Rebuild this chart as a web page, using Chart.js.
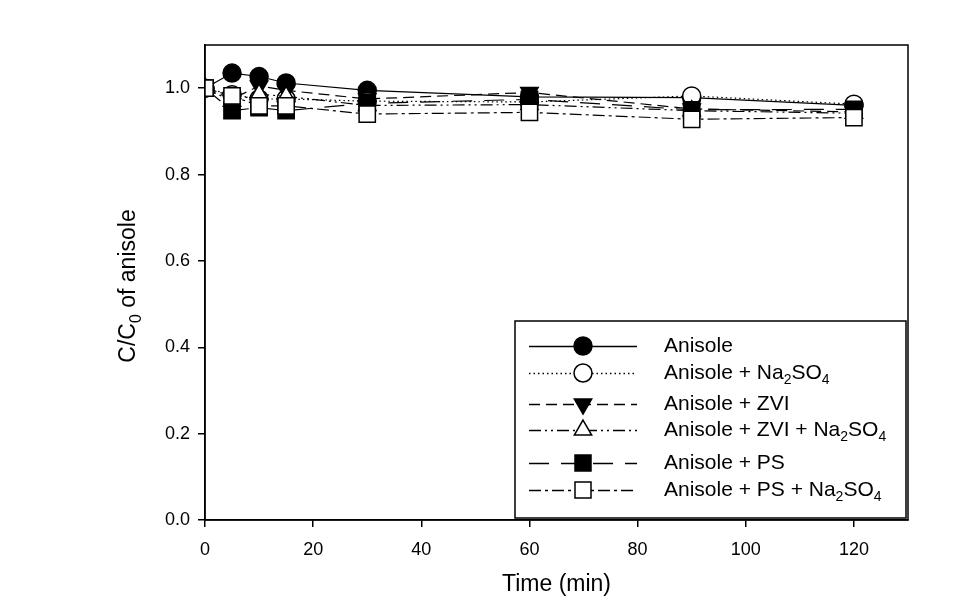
<!DOCTYPE html>
<html>
<head>
<meta charset="utf-8">
<script src="https://cdn.jsdelivr.net/npm/chart.js@4/dist/chart.umd.min.js"></script>
<style>
  html, body { margin: 0; padding: 0; background: #fff; }
  #wrap { width: 968px; height: 614px; }
</style>
</head>
<body>
<div id="wrap"><canvas id="chart" width="968" height="614"></canvas></div>
<script>
// sampling times (min)
const times = [0, 5, 10, 15, 30, 60, 90, 120];

// C/C0 values
const anisole      = [1.0, 1.035, 1.027, 1.012, 0.995, 0.980, 0.978, 0.960];
const anisoleNa    = [1.0, 0.985, 0.975, 0.975, 0.970, 0.968, 0.982, 0.963];
const anisoleZvi   = [1.0, 0.975, 1.005, 0.995, 0.975, 0.990, 0.952, 0.945];
const anisoleZviNa = [1.0, 0.970, 0.986, 0.981, 0.960, 0.962, 0.948, 0.942];
const anisolePs    = [1.0, 0.948, 0.955, 0.948, 0.965, 0.974, 0.950, 0.951];
const anisolePsNa  = [1.0, 0.982, 0.959, 0.959, 0.940, 0.944, 0.928, 0.932];

const xTicks = [0, 20, 40, 60, 80, 100, 120];
const yTicks = [0.0, 0.2, 0.4, 0.6, 0.8, 1.0];

// legend labels: [text, subscript?]
const seriesNames = [
    [['Anisole', false]],
    [['Anisole + Na', false], ['2', true], ['SO', false], ['4', true]],
    [['Anisole + ZVI', false]],
    [['Anisole + ZVI + Na', false], ['2', true], ['SO', false], ['4', true]],
    [['Anisole + PS', false]],
    [['Anisole + PS + Na', false], ['2', true], ['SO', false], ['4', true]]
];

const FONT = '"Liberation Sans", Arial, sans-serif';

const styles = [
    { shape: 'circle',   fill: '#000', dash: [] },
    { shape: 'circle',   fill: '#fff', dash: [1.5, 3] },
    { shape: 'triangle', fill: '#000', dash: [11, 6], rot: 180 },
    { shape: 'triangle', fill: '#fff', dash: [12, 4, 2, 4, 2, 4] },
    { shape: 'rect',     fill: '#000', dash: [20, 12] },
    { shape: 'rect',     fill: '#fff', dash: [12, 4, 3, 4] }
];
const seriesData = [anisole, anisoleNa, anisoleZvi, anisoleZviNa, anisolePs, anisolePsNa];

const radiusFor = s => s === 'circle' ? 9 : (s === 'rect' ? 11.5 : 10);

const datasets = seriesData.map((vals, i) => ({
    label: 's' + i,
    data: vals.map((v, k) => ({ x: times[k], y: v })),
    borderColor: '#000',
    borderWidth: 1.2,
    borderDash: styles[i].dash,
    backgroundColor: styles[i].fill,
    pointStyle: styles[i].shape,
    pointRotation: styles[i].rot || 0,
    pointRadius: radiusFor(styles[i].shape),
    pointBorderWidth: 1.5,
    pointBorderColor: '#000',
    pointBackgroundColor: styles[i].fill,
    tension: 0,
    order: seriesData.length - i
}));

// marker for the legend, same look as in the plot
function marker(ctx, st, x, y) {
    ctx.save();
    ctx.setLineDash([]);
    ctx.lineWidth = 1.5;
    ctx.strokeStyle = '#000';
    ctx.fillStyle = st.fill;
    ctx.beginPath();
    if (st.shape === 'circle') {
        ctx.arc(x, y, 9, 0, Math.PI * 2);
    } else if (st.shape === 'rect') {
        ctx.rect(x - 8, y - 8, 16, 16);
    } else {
        const r = 10, d = st.rot ? -1 : 1;
        ctx.moveTo(x, y - d * r);
        ctx.lineTo(x + r * 0.866, y + d * r * 0.5);
        ctx.lineTo(x - r * 0.866, y + d * r * 0.5);
        ctx.closePath();
    }
    ctx.fill();
    ctx.stroke();
    ctx.restore();
}

function richText(ctx, parts, x, y, size) {
    let cx = x;
    parts.forEach(([t, sub]) => {
        ctx.font = (sub ? Math.round(size * 0.68) : size) + 'px ' + FONT;
        ctx.fillText(t, cx, sub ? y + size * 0.32 : y);
        cx += ctx.measureText(t).width;
    });
    return cx;
}

const decorations = {
    id: 'decorations',
    afterDraw(chart) {
        const ctx = chart.ctx;
        const a = chart.chartArea;
        ctx.save();
        // frame
        ctx.strokeStyle = '#000';
        ctx.lineWidth = 1.5;
        ctx.strokeRect(a.left, a.top, a.right - a.left, a.bottom - a.top);

        // x title
        ctx.fillStyle = '#000';
        ctx.textBaseline = 'middle';
        ctx.textAlign = 'center';
        ctx.font = '23px ' + FONT;
        ctx.fillText('Time (min)', (a.left + a.right) / 2, 585);

        // y title with subscript
        ctx.save();
        ctx.translate(129, 286);
        ctx.rotate(-Math.PI / 2);
        ctx.textAlign = 'left';
        const yParts = [['C/C', false], ['0', true], [' of anisole', false]];
        let w = 0;
        yParts.forEach(([t, sub]) => {
            ctx.font = (sub ? Math.round(23 * 0.68) : 23) + 'px ' + FONT;
            w += ctx.measureText(t).width;
        });
        richText(ctx, yParts, -w / 2, 0, 23);
        ctx.restore();

        // legend box
        const bx = 515, by = 321, bw = 391, bh = 197;
        ctx.fillStyle = '#fff';
        ctx.fillRect(bx, by, bw, bh);
        ctx.strokeRect(bx, by, bw, bh);
        const rows = [346, 373, 404, 430, 463, 490];
        rows.forEach((ry, i) => {
            const st = styles[i];
            ctx.save();
            ctx.lineWidth = 1.3;
            ctx.setLineDash(st.dash);
            ctx.beginPath();
            ctx.moveTo(529, ry + 0.5);
            ctx.lineTo(637, ry + 0.5);
            ctx.stroke();
            ctx.restore();
            marker(ctx, st, 583, ry);
            ctx.fillStyle = '#000';
            ctx.textAlign = 'left';
            ctx.textBaseline = 'middle';
            richText(ctx, seriesNames[i], 664, ry, 21);
        });
        ctx.restore();
    }
};

new Chart(document.getElementById('chart'), {
    type: 'line',
    data: { datasets },
    options: {
        responsive: false,
        animation: false,
        events: [],
        layout: { padding: { top: 45, right: 60, left: 0, bottom: 0 } },
        plugins: { legend: { display: false }, tooltip: { enabled: false } },
        scales: {
            x: {
                type: 'linear',
                min: 0,
                max: 130,
                afterBuildTicks: s => { s.ticks = xTicks.map(v => ({ value: v })); },
                afterFit: s => { s.height = 94; },
                grid: { drawOnChartArea: false, drawTicks: true, tickLength: 7, color: '#000', lineWidth: 1.5 },
                border: { color: '#000', width: 1.5 },
                ticks: { color: '#000', font: { family: FONT, size: 18 }, padding: 12, maxRotation: 0 }
            },
            y: {
                type: 'linear',
                min: 0,
                max: 1.1,
                afterBuildTicks: s => { s.ticks = yTicks.map(v => ({ value: v })); },
                afterFit: s => { s.width = 205; },
                grid: { drawOnChartArea: false, drawTicks: true, tickLength: 7, color: '#000', lineWidth: 1.5 },
                border: { color: '#000', width: 1.5 },
                ticks: { color: '#000', font: { family: FONT, size: 18 }, padding: 8,
                         callback: v => v.toFixed(1) }
            }
        }
    },
    plugins: [decorations]
});
</script>
</body>
</html>
